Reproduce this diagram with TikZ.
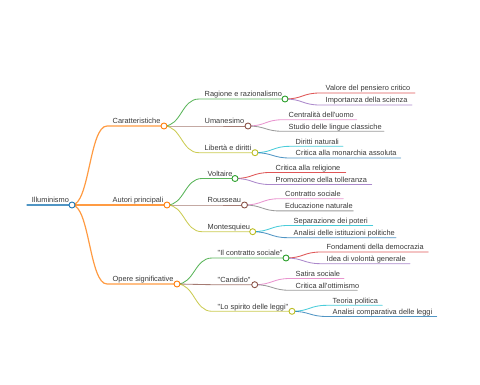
\documentclass[tikz,border=0pt]{standalone}
\usepackage{fontspec}
\setmainfont{Liberation Sans}[Ligatures=TeXOff]
\definecolor{cblue}{HTML}{1F77B4}
\definecolor{corange}{HTML}{FF7F0E}
\definecolor{cgreen}{HTML}{2CA02C}
\definecolor{cred}{HTML}{D62728}
\definecolor{cpurple}{HTML}{9467BD}
\definecolor{cbrown}{HTML}{8C564B}
\definecolor{cpink}{HTML}{E377C2}
\definecolor{cgrey}{HTML}{7F7F7F}
\definecolor{colive}{HTML}{BCBD22}
\definecolor{ccyan}{HTML}{17BECF}
\newcommand\mmbranch[6]{%
  \coordinate (#2L) at (#3,#5);
  \coordinate (#2R) at (#4,#5);
  \draw[link, draw=#6] (#1R) .. controls +(17.5,0) and +(-17.5,0) .. (#2L) -- (#2R);
}
\newcommand\mmlabel[2]{%
  \node[lbl] (#1T) at ([xshift=5.5pt,yshift=2.3pt]#1L) {#2};
}
\begin{document}
\begin{tikzpicture}[x=1pt,y=-1pt,
  lbl/.style={anchor=base west, inner sep=0pt, font=\fontsize{7.4}{8.5}\selectfont, text=black!78},
  dot/.style={circle, draw, fill=white, inner sep=0pt, minimum size=6pt, line width=0.9pt},
  link/.style={line width=0.85pt, draw opacity=0.78, line cap=round},
  thick link/.style={line width=1.2pt}
]
\useasboundingbox (0,0) rectangle (480,384);
% root
\coordinate (rootL) at (27,205);
\coordinate (rootR) at (72,205);
\draw[link, thick link, draw=cblue] (rootL) -- (rootR);
% level 1
\begin{scope}[link/.append style={line width=1.2pt}]
\mmbranch{root}{car}{107}{164}{126}{corange}
\mmbranch{root}{aut}{107}{167}{205}{corange}
\mmbranch{root}{ope}{107}{177}{284}{corange}
\end{scope}
% level 2
\mmbranch{car}{rag}{199}{285}{99}{cgreen}
\mmbranch{car}{uma}{199}{248}{126}{cbrown}
\mmbranch{car}{lib}{199}{255}{152.7}{colive}
\mmbranch{aut}{vol}{202}{235}{178.5}{cgreen}
\mmbranch{aut}{rou}{202}{244.5}{205}{cbrown}
\mmbranch{aut}{mon}{202}{252.7}{231.7}{colive}
\mmbranch{ope}{con}{212}{286}{258}{cgreen}
\mmbranch{ope}{can}{212}{254.7}{284.7}{cbrown}
\mmbranch{ope}{spi}{212}{292}{311.3}{colive}
% level 3
\mmbranch{rag}{val}{320}{415}{93}{cred}
\mmbranch{rag}{imp}{320}{412}{105}{cpurple}
\mmbranch{uma}{cen}{283}{356.7}{119.7}{cpink}
\mmbranch{uma}{stu}{283}{384}{131.3}{cgrey}
\mmbranch{lib}{dir}{290}{343}{146.3}{ccyan}
\mmbranch{lib}{mna}{290}{400.7}{158}{cblue}
\mmbranch{vol}{rel}{270}{345.7}{172.5}{cred}
\mmbranch{vol}{tol}{270}{371.7}{184.5}{cpurple}
\mmbranch{rou}{cso}{279.5}{343.3}{198.7}{cpink}
\mmbranch{rou}{edu}{279.5}{353.3}{210.9}{cgrey}
\mmbranch{mon}{sep}{288}{372.7}{225.5}{ccyan}
\mmbranch{mon}{ist}{288}{396}{237.7}{cblue}
\mmbranch{con}{fon}{321}{428.3}{252}{cred}
\mmbranch{con}{ide}{321}{410}{263.7}{cpurple}
\mmbranch{can}{sat}{290}{344}{278.5}{cpink}
\mmbranch{can}{ott}{290}{357.3}{290.3}{cgrey}
\mmbranch{spi}{teo}{327}{382.3}{305.3}{ccyan}
\mmbranch{spi}{com}{327}{436.7}{316.5}{cblue}
% dots
\node[dot, draw=cblue] (rootD) at (rootR) {};
\node[dot, draw=corange] (carD) at (carR) {};
\node[dot, draw=corange] (autD) at (autR) {};
\node[dot, draw=corange] (opeD) at (opeR) {};
\node[dot, draw=cgreen] (ragD) at (ragR) {};
\node[dot, draw=cbrown] (umaD) at (umaR) {};
\node[dot, draw=colive] (libD) at (libR) {};
\node[dot, draw=cgreen] (volD) at (volR) {};
\node[dot, draw=cbrown] (rouD) at (rouR) {};
\node[dot, draw=colive] (monD) at (monR) {};
\node[dot, draw=cgreen] (conD) at (conR) {};
\node[dot, draw=cbrown] (canD) at (canR) {};
\node[dot, draw=colive] (spiD) at (spiR) {};
% labels
\node[lbl] (rootT) at ([xshift=4.7pt,yshift=2.3pt]rootL) {Illuminismo};
\mmlabel{car}{Caratteristiche}
\mmlabel{aut}{Autori principali}
\mmlabel{ope}{Opere significative}
\mmlabel{rag}{Ragione e razionalismo}
\mmlabel{uma}{Umanesimo}
\mmlabel{lib}{Libertà e diritti}
\mmlabel{vol}{Voltaire}
\mmlabel{rou}{Rousseau}
\mmlabel{mon}{Montesquieu}
\mmlabel{con}{"Il contratto sociale"}
\mmlabel{can}{"Candido"}
\mmlabel{spi}{"Lo spirito delle leggi"}
\mmlabel{val}{Valore del pensiero critico}
\mmlabel{imp}{Importanza della scienza}
\mmlabel{cen}{Centralità dell'uomo}
\mmlabel{stu}{Studio delle lingue classiche}
\mmlabel{dir}{Diritti naturali}
\mmlabel{mna}{Critica alla monarchia assoluta}
\mmlabel{rel}{Critica alla religione}
\mmlabel{tol}{Promozione della tolleranza}
\mmlabel{cso}{Contratto sociale}
\mmlabel{edu}{Educazione naturale}
\mmlabel{sep}{Separazione dei poteri}
\mmlabel{ist}{Analisi delle istituzioni politiche}
\mmlabel{fon}{Fondamenti della democrazia}
\mmlabel{ide}{Idea di volontà generale}
\mmlabel{sat}{Satira sociale}
\mmlabel{ott}{Critica all'ottimismo}
\mmlabel{teo}{Teoria politica}
\mmlabel{com}{Analisi comparativa delle leggi}
\end{tikzpicture}
\end{document}
